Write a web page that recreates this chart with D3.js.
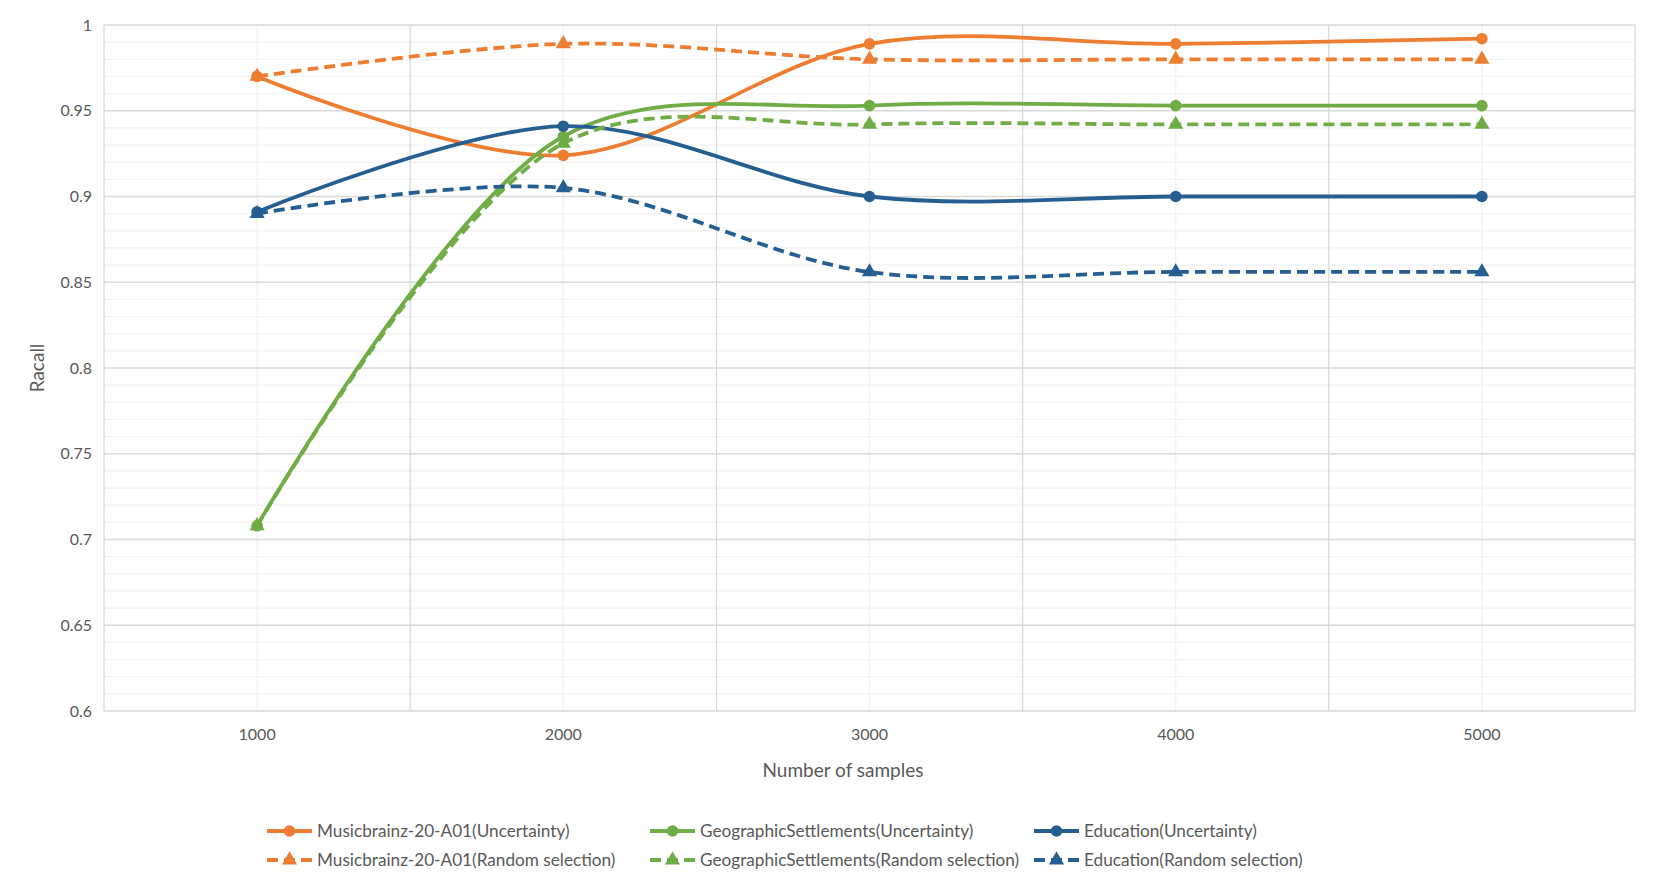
<!DOCTYPE html>
<html><head><meta charset="utf-8">
<script src="https://cdn.jsdelivr.net/npm/d3@7"></script>
<style>body{margin:0;background:#fff}svg{display:block}text{font-family:Lato,"Open Sans",sans-serif;fill:#595959}</style>
</head><body><svg id="c" width="1672" height="890"></svg>
<script>
const categories = ["1000","2000","3000","4000","5000"];
const yTicks = [0.6,0.65,0.7,0.75,0.8,0.85,0.9,0.95,1];
const seriesNames = ["Musicbrainz-20-A01(Uncertainty)","GeographicSettlements(Uncertainty)","Education(Uncertainty)",
  "Musicbrainz-20-A01(Random selection)","GeographicSettlements(Random selection)","Education(Random selection)"];
const musicUnc = [0.970,0.924,0.989,0.989,0.992];
const geoUnc   = [0.708,0.935,0.953,0.953,0.953];
const eduUnc   = [0.891,0.941,0.900,0.900,0.900];
const musicRnd = [0.970,0.989,0.980,0.980,0.980];
const geoRnd   = [0.708,0.931,0.942,0.942,0.942];
const eduRnd   = [0.890,0.905,0.856,0.856,0.856];
const seriesValues = [musicUnc,geoUnc,eduUnc,musicRnd,geoRnd,eduRnd];
const colors = ["#ED7D31","#70AD47","#255E91","#ED7D31","#70AD47","#255E91"];
const dashed = [false,false,false,true,true,true];

const svg = d3.select("#c");
const L=104,R=1635,T=25,B=711;
const x = d3.scaleBand().domain(categories).range([L,R]).padding(0);
const cx = c => x(c)+x.bandwidth()/2;
const y = d3.scaleLinear().domain([0.6,1]).range([B,T]);

const minor = d3.range(60,101).map(v=>v/100).filter(v=>Math.round(v*100)%5!==0);
svg.append("g").selectAll("line").data(minor).join("line")
  .attr("x1",L).attr("x2",R).attr("y1",d=>y(d)).attr("y2",d=>y(d))
  .attr("stroke","#F2F2F2").attr("stroke-width",1.3);
svg.append("g").selectAll("line").data(categories).join("line")
  .attr("x1",d=>cx(d)).attr("x2",d=>cx(d)).attr("y1",T).attr("y2",B)
  .attr("stroke","#F2F2F2").attr("stroke-width",1.3);
svg.append("g").selectAll("line").data(yTicks).join("line")
  .attr("x1",L).attr("x2",R).attr("y1",d=>y(d)).attr("y2",d=>y(d))
  .attr("stroke","#D9D9D9").attr("stroke-width",1.3);
const bounds = categories.map(c=>x(c)).concat([R]);
svg.append("g").selectAll("line").data(bounds).join("line")
  .attr("x1",d=>d).attr("x2",d=>d).attr("y1",T).attr("y2",B)
  .attr("stroke","#D9D9D9").attr("stroke-width",1.3);

const yAxis = d3.axisLeft(y).tickValues(yTicks).tickSize(0).tickPadding(12).tickFormat(d=>String(+d.toFixed(2)));
const ya = svg.append("g").attr("transform",`translate(${L},0)`).call(yAxis);
ya.select(".domain").remove();
ya.selectAll("text").attr("font-size",16).style("fill","#595959").attr("font-family","Lato");
const xAxis = d3.axisBottom(x).tickSize(0).tickPadding(18);
const xa = svg.append("g").attr("transform",`translate(0,${B})`).call(xAxis);
xa.select(".domain").remove();
xa.selectAll("text").attr("font-size",16).style("fill","#595959").attr("font-family","Lato");

svg.append("text").attr("x",843).attr("y",777).attr("text-anchor","middle").attr("font-size",19).text("Number of samples");
svg.append("text").attr("transform","translate(44,368) rotate(-90)").attr("text-anchor","middle").attr("font-size",19).text("Racall");

const line = d3.line().x((d,i)=>cx(categories[i])).y(d=>y(d)).curve(d3.curveCatmullRom.alpha(0.5));
const tri = d3.symbol().type(d3.symbolTriangle).size(100);

seriesValues.forEach((vals,si)=>{
  const g = svg.append("g");
  g.append("path").attr("d",line(vals)).attr("fill","none").attr("stroke",colors[si])
    .attr("stroke-width",3.8).attr("stroke-dasharray",dashed[si]?"11,6":null);
  if(!dashed[si]){
    g.selectAll("circle").data(vals).join("circle").attr("cx",(d,i)=>cx(categories[i])).attr("cy",d=>y(d))
      .attr("r",5.8).attr("fill",colors[si]);
  } else {
    g.selectAll("path.m").data(vals).join("path").attr("class","m").attr("d",tri)
      .attr("transform",(d,i)=>`translate(${cx(categories[i])},${y(d)})`).attr("fill",colors[si]);
  }
});

const legX=[267,650,1034], legY=[831,860];
seriesNames.forEach((n,si)=>{
  const col=si%3,row=Math.floor(si/3);
  const g=svg.append("g").attr("transform",`translate(${legX[col]},${legY[row]})`);
  g.append("line").attr("x1",0).attr("x2",45).attr("y1",0).attr("y2",0).attr("stroke",colors[si]).attr("stroke-width",3.8)
    .attr("stroke-dasharray",dashed[si]?"11,6":null);
  if(!dashed[si]) g.append("circle").attr("cx",22.5).attr("cy",0).attr("r",5.8).attr("fill",colors[si]);
  else g.append("path").attr("d",tri).attr("transform","translate(22.5,0)").attr("fill",colors[si]);
  g.append("text").attr("x",50).attr("y",0).attr("dy","0.35em").attr("font-size",17.2).text(n);
});
</script></body></html>
